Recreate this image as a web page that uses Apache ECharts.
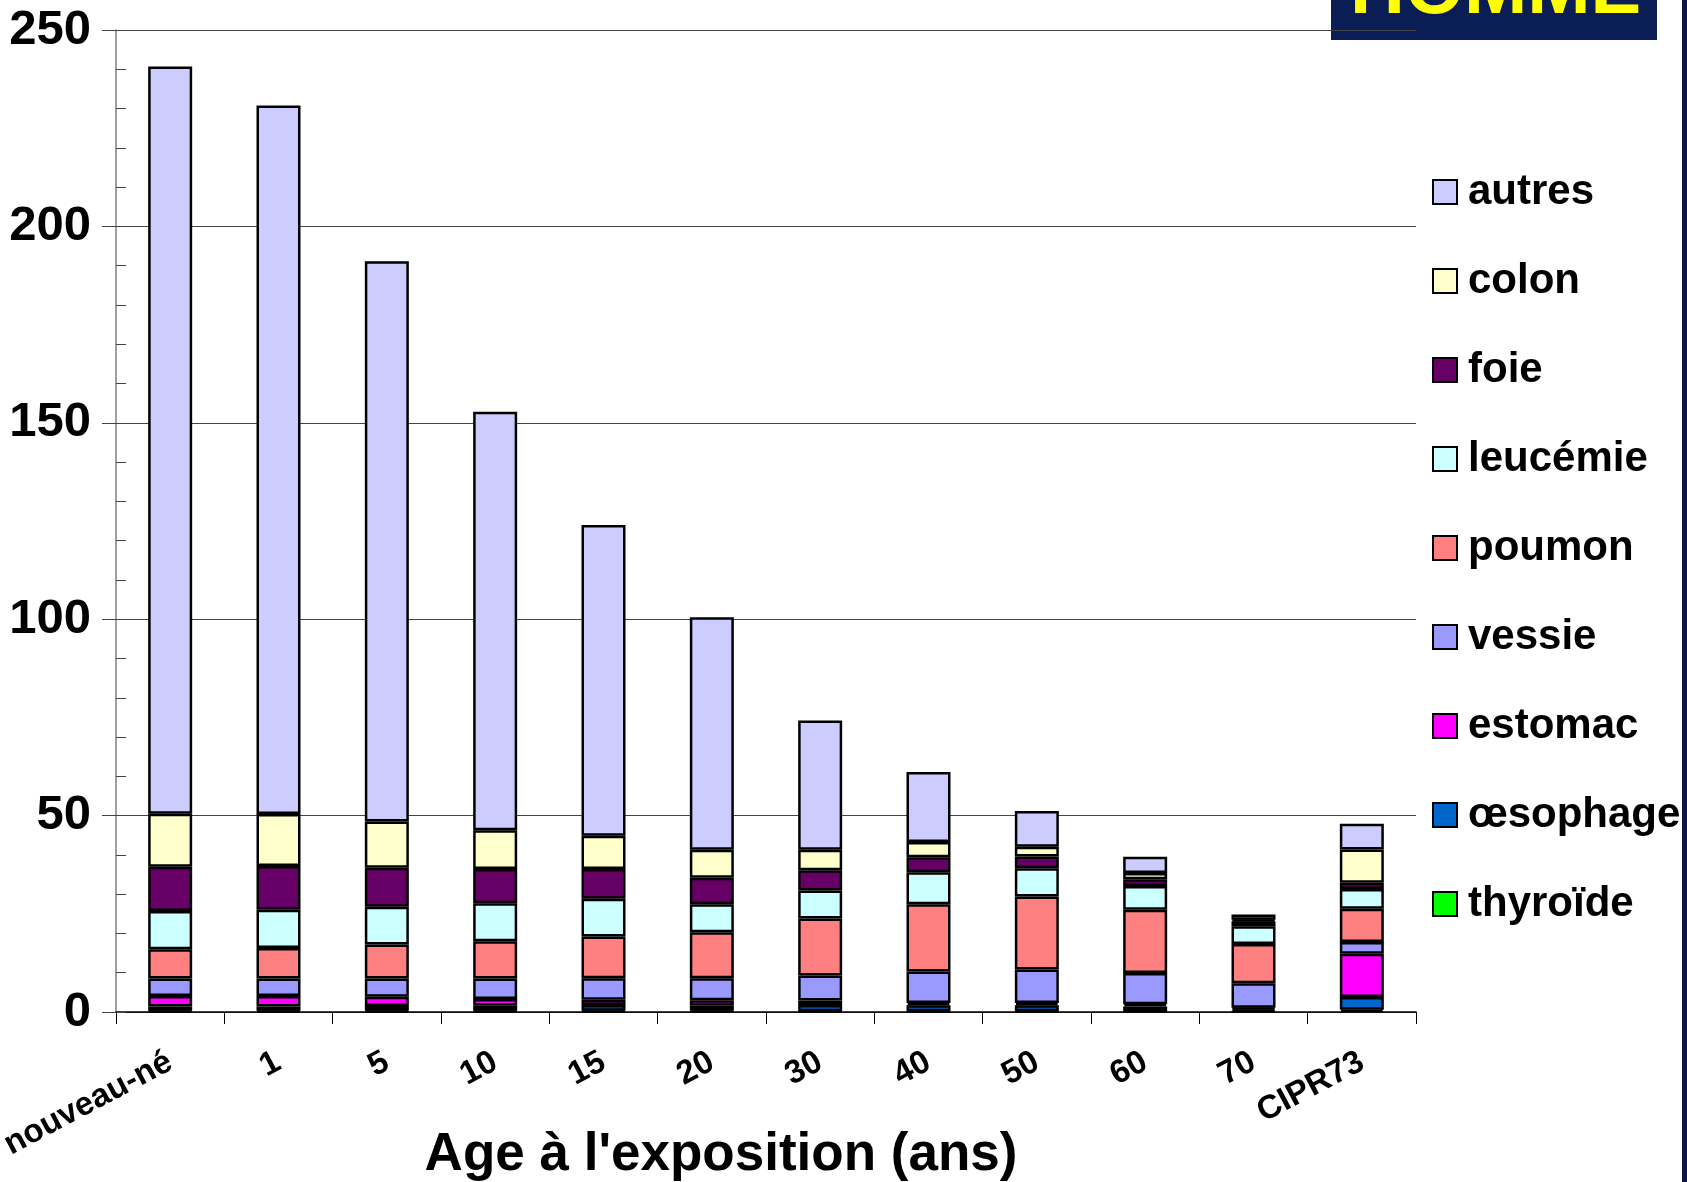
<!DOCTYPE html>
<html>
<head>
<meta charset="utf-8">
<script src="https://cdn.jsdelivr.net/npm/echarts@6/dist/echarts.min.js"></script>
<style>
  html, body { margin: 0; padding: 0; background: #fff; }
  #chart { width: 1687px; height: 1182px; }
</style>
</head>
<body>
<div id="chart"></div>
<script>
// catégories d'âge
var categories = ['nouveau-né', '1', '5', '10', '15', '20', '30', '40', '50', '60', '70', 'CIPR73'];

// valeurs par organe (empilées du bas vers le haut)
var thyroide  = [0.3, 0.3, 0.3, 0.3, 0.3, 0.3, 0.2, 0.2, 0.2, 0.2, 0.1, 0.6];
var oesophage = [1.1, 1.1, 1.2, 1.3, 1.5, 1.3, 1.6, 1.5, 1.5, 1.2, 0.6, 3.2];
var estomac   = [2.7, 2.7, 2.4, 1.7, 1.3, 1.4, 1.1, 0.6, 0.6, 0.6, 0.4, 11.0];
var vessie    = [4.4, 4.4, 4.6, 5.2, 5.5, 5.6, 6.4, 8.0, 8.5, 7.9, 6.2, 3.0];
var poumon    = [7.5, 7.8, 8.7, 9.5, 10.6, 11.7, 14.5, 17.1, 18.6, 16.1, 10.0, 8.5];
var leucemie  = [9.7, 9.7, 9.6, 9.7, 9.6, 7.1, 7.1, 8.2, 7.2, 6.1, 4.5, 5.0];
var foie      = [11.3, 11.2, 9.9, 8.7, 7.6, 6.8, 5.2, 3.8, 3.0, 1.7, 1.3, 1.6];
var colon     = [13.5, 13.2, 11.8, 9.9, 8.5, 7.1, 5.2, 3.9, 2.5, 1.6, 0.4, 8.5];
var autres    = [190.2, 180.4, 142.6, 106.5, 79.1, 59.2, 32.9, 17.8, 9.1, 4.1, 1.3, 6.5];

var yTicks = [0, 50, 100, 150, 200, 250];

var font = '"Liberation Sans", Arial, sans-serif';

var stackDefs = [
    ['thyroïde', thyroide, '#00ff00'],
    ['œsophage', oesophage, '#0066cc'],
    ['estomac', estomac, '#ff00ff'],
    ['vessie', vessie, '#9999ff'],
    ['poumon', poumon, '#ff8080'],
    ['leucémie', leucemie, '#ccffff'],
    ['foie', foie, '#660066'],
    ['colon', colon, '#ffffcc'],
    ['autres', autres, '#ccccff']
];

var series = stackDefs.map(function (d) {
    return {
        name: d[0],
        type: 'bar',
        stack: 'total',
        barWidth: 44,
        data: d[1],
        itemStyle: { color: d[2], borderColor: '#000', borderWidth: 2.5 }
    };
});

var option = {
    animation: false,
    backgroundColor: '#fff',
    textStyle: { fontFamily: font },
    grid: { left: 116, right: 271, top: 30, bottom: 170, containLabel: false, outerBoundsMode: 'none' },
    legend: {
        orient: 'vertical',
        left: 1427,
        top: 165,
        itemWidth: 24,
        itemHeight: 24,
        itemGap: 45,
        icon: 'rect',
        data: ['autres', 'colon', 'foie', 'leucémie', 'poumon', 'vessie', 'estomac', 'œsophage', 'thyroïde'],
        itemStyle: { borderWidth: 2 },
        textStyle: { fontSize: 42, fontWeight: 'bold', color: '#000', fontFamily: font, lineHeight: 44, padding: [0, 0, 0, 6] }
    },
    xAxis: {
        type: 'category',
        data: categories,
        name: "Age à l'exposition (ans)",
        nameLocation: 'middle',
        nameGap: 117,
        nameMoveOverlap: false,
        nameTextStyle: { fontSize: 53, fontWeight: 'bold', color: '#000', fontFamily: font, padding: [0, 90, 0, 0] },
        axisLine: { lineStyle: { color: '#000', width: 1.5 } },
        axisTick: { show: true, alignWithLabel: false, length: 12, lineStyle: { color: '#000', width: 1 } },
        axisLabel: { rotate: 28, margin: 48, fontSize: 33, fontWeight: 'bold', color: '#000', fontFamily: font, interval: 0 }
    },
    yAxis: [{
        type: 'value',
        min: 0,
        max: 250,
        interval: 50,
        axisLine: { show: true, lineStyle: { color: '#808080', width: 1.5 } },
        axisTick: { show: true, length: 14, lineStyle: { color: '#444' } },
        axisLabel: { margin: 25, fontSize: 49, fontWeight: 'bold', color: '#000', fontFamily: font,
            formatter: function (v) { return yTicks.indexOf(v) >= 0 ? String(v) : ''; } },
        splitLine: { show: true, lineStyle: { color: '#444', width: 1 } }
    }, {
        type: 'value',
        min: 0,
        max: 250,
        interval: 10,
        position: 'left',
        axisLine: { show: false },
        axisTick: { show: true, inside: true, length: 10, lineStyle: { color: '#444' } },
        axisLabel: { show: false },
        splitLine: { show: false }
    }],
    series: series,
    graphic: [
        { type: 'rect', left: 1331, top: 0, shape: { width: 326, height: 40 }, style: { fill: '#0a1e55' } },
        { type: 'text', left: 1350, top: -46, style: { text: 'HOMME', fill: '#ffff00', font: 'bold 76px ' + font,
            shadowColor: '#000', shadowOffsetX: 3, shadowOffsetY: 3, shadowBlur: 0 } },
        { type: 'rect', left: 1682, top: 0, shape: { width: 5, height: 1182 }, style: { fill: '#0a1448' } }
    ]
};

var mychart = echarts.init(document.getElementById('chart'));
mychart.setOption(option);
</script>
</body>
</html>
